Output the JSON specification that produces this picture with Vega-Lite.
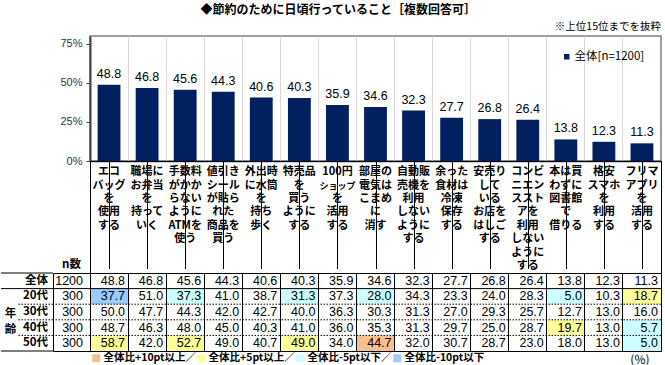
{
 "$schema": "https://vega.github.io/schema/vega-lite/v6.json",
 "padding": {"left": 0, "top": 3, "right": 0, "bottom": 2},
 "title": {"text": "◆節約のために日頃行っていること［複数回答可］", "fontSize": 12, "fontWeight": "bold", "anchor": "middle", "offset": 4, "dx": 7, "color": "#000"},
 "datasets": {
  "hd": [
   {"i": 1, "k": 1, "t": "エコ"}, {"i": 1, "k": 2, "t": "バッグ"}, {"i": 1, "k": 3, "t": "を"}, {"i": 1, "k": 4, "t": "使用"}, {"i": 1, "k": 5, "t": "する"},
   {"i": 2, "k": 1, "t": "職場に"}, {"i": 2, "k": 2, "t": "お弁当"}, {"i": 2, "k": 3, "t": "を"}, {"i": 2, "k": 4, "t": "持って"}, {"i": 2, "k": 5, "t": "いく"},
   {"i": 3, "k": 1, "t": "手数料"}, {"i": 3, "k": 2, "t": "がかか"}, {"i": 3, "k": 3, "t": "らない"}, {"i": 3, "k": 4, "t": "ように"}, {"i": 3, "k": 5, "t": "ATMを"}, {"i": 3, "k": 6, "t": "使う"},
   {"i": 4, "k": 1, "t": "値引き"}, {"i": 4, "k": 2, "t": "シール"}, {"i": 4, "k": 3, "t": "が貼ら"}, {"i": 4, "k": 4, "t": "れた"}, {"i": 4, "k": 5, "t": "商品を"}, {"i": 4, "k": 6, "t": "買う"},
   {"i": 5, "k": 1, "t": "外出時"}, {"i": 5, "k": 2, "t": "に水筒"}, {"i": 5, "k": 3, "t": "を"}, {"i": 5, "k": 4, "t": "持ち"}, {"i": 5, "k": 5, "t": "歩く"},
   {"i": 6, "k": 1, "t": "特売品"}, {"i": 6, "k": 2, "t": "を"}, {"i": 6, "k": 3, "t": "買う"}, {"i": 6, "k": 4, "t": "ように"}, {"i": 6, "k": 5, "t": "する"},
   {"i": 7, "k": 1, "t": "100円"}, {"i": 7, "k": 2, "t": "ショップ"}, {"i": 7, "k": 3, "t": "を"}, {"i": 7, "k": 4, "t": "活用"}, {"i": 7, "k": 5, "t": "する"},
   {"i": 8, "k": 1, "t": "部屋の"}, {"i": 8, "k": 2, "t": "電気は"}, {"i": 8, "k": 3, "t": "こまめ"}, {"i": 8, "k": 4, "t": "に"}, {"i": 8, "k": 5, "t": "消す"},
   {"i": 9, "k": 1, "t": "自動販"}, {"i": 9, "k": 2, "t": "売機を"}, {"i": 9, "k": 3, "t": "利用"}, {"i": 9, "k": 4, "t": "しない"}, {"i": 9, "k": 5, "t": "ように"}, {"i": 9, "k": 6, "t": "する"},
   {"i": 10, "k": 1, "t": "余った"}, {"i": 10, "k": 2, "t": "食材は"}, {"i": 10, "k": 3, "t": "冷凍"}, {"i": 10, "k": 4, "t": "保存"}, {"i": 10, "k": 5, "t": "する"},
   {"i": 11, "k": 1, "t": "安売り"}, {"i": 11, "k": 2, "t": "して"}, {"i": 11, "k": 3, "t": "いる"}, {"i": 11, "k": 4, "t": "お店を"}, {"i": 11, "k": 5, "t": "はしご"}, {"i": 11, "k": 6, "t": "する"},
   {"i": 12, "k": 1, "t": "コンビ"}, {"i": 12, "k": 2, "t": "ニエン"}, {"i": 12, "k": 3, "t": "ススト"}, {"i": 12, "k": 4, "t": "アを"}, {"i": 12, "k": 5, "t": "利用"}, {"i": 12, "k": 6, "t": "しない"}, {"i": 12, "k": 7, "t": "ように"}, {"i": 12, "k": 8, "t": "する"},
   {"i": 13, "k": 1, "t": "本は買"}, {"i": 13, "k": 2, "t": "わずに"}, {"i": 13, "k": 3, "t": "図書館"}, {"i": 13, "k": 4, "t": "で"}, {"i": 13, "k": 5, "t": "借りる"},
   {"i": 14, "k": 1, "t": "格安"}, {"i": 14, "k": 2, "t": "スマホ"}, {"i": 14, "k": 3, "t": "を"}, {"i": 14, "k": 4, "t": "利用"}, {"i": 14, "k": 5, "t": "する"},
   {"i": 15, "k": 1, "t": "フリマ"}, {"i": 15, "k": 2, "t": "アプリ"}, {"i": 15, "k": 3, "t": "を"}, {"i": 15, "k": 4, "t": "活用"}, {"i": 15, "k": 5, "t": "する"}
  ],
  "ages": [
   {"r": "全体", "n": 1200},
   {"r": "20代", "n": 300},
   {"r": "30代", "n": 300},
   {"r": "40代", "n": 300},
   {"r": "50代", "n": 300}
  ],
  "cells": [
   {"i": 1, "r": "全体", "v": 48.8}, {"i": 1, "r": "20代", "v": 37.7, "h": "全体比-10pt以下"}, {"i": 1, "r": "30代", "v": 50.0}, {"i": 1, "r": "40代", "v": 48.7}, {"i": 1, "r": "50代", "v": 58.7, "h": "全体比+5pt以上／"},
   {"i": 2, "r": "全体", "v": 46.8}, {"i": 2, "r": "20代", "v": 51.0}, {"i": 2, "r": "30代", "v": 47.7}, {"i": 2, "r": "40代", "v": 46.3}, {"i": 2, "r": "50代", "v": 42.0},
   {"i": 3, "r": "全体", "v": 45.6}, {"i": 3, "r": "20代", "v": 37.3, "h": "全体比-5pt以下／"}, {"i": 3, "r": "30代", "v": 44.3}, {"i": 3, "r": "40代", "v": 48.0}, {"i": 3, "r": "50代", "v": 52.7, "h": "全体比+5pt以上／"},
   {"i": 4, "r": "全体", "v": 44.3}, {"i": 4, "r": "20代", "v": 41.0}, {"i": 4, "r": "30代", "v": 42.0}, {"i": 4, "r": "40代", "v": 45.0}, {"i": 4, "r": "50代", "v": 49.0},
   {"i": 5, "r": "全体", "v": 40.6}, {"i": 5, "r": "20代", "v": 38.7}, {"i": 5, "r": "30代", "v": 42.7}, {"i": 5, "r": "40代", "v": 40.3}, {"i": 5, "r": "50代", "v": 40.7},
   {"i": 6, "r": "全体", "v": 40.3}, {"i": 6, "r": "20代", "v": 31.3, "h": "全体比-5pt以下／"}, {"i": 6, "r": "30代", "v": 40.0}, {"i": 6, "r": "40代", "v": 41.0}, {"i": 6, "r": "50代", "v": 49.0, "h": "全体比+5pt以上／"},
   {"i": 7, "r": "全体", "v": 35.9}, {"i": 7, "r": "20代", "v": 37.3}, {"i": 7, "r": "30代", "v": 36.3}, {"i": 7, "r": "40代", "v": 36.0}, {"i": 7, "r": "50代", "v": 34.0},
   {"i": 8, "r": "全体", "v": 34.6}, {"i": 8, "r": "20代", "v": 28.0, "h": "全体比-5pt以下／"}, {"i": 8, "r": "30代", "v": 30.3}, {"i": 8, "r": "40代", "v": 35.3}, {"i": 8, "r": "50代", "v": 44.7, "h": "全体比+10pt以上／"},
   {"i": 9, "r": "全体", "v": 32.3}, {"i": 9, "r": "20代", "v": 34.3}, {"i": 9, "r": "30代", "v": 31.3}, {"i": 9, "r": "40代", "v": 31.3}, {"i": 9, "r": "50代", "v": 32.0},
   {"i": 10, "r": "全体", "v": 27.7}, {"i": 10, "r": "20代", "v": 23.3}, {"i": 10, "r": "30代", "v": 27.0}, {"i": 10, "r": "40代", "v": 29.7}, {"i": 10, "r": "50代", "v": 30.7},
   {"i": 11, "r": "全体", "v": 26.8}, {"i": 11, "r": "20代", "v": 24.0}, {"i": 11, "r": "30代", "v": 29.3}, {"i": 11, "r": "40代", "v": 25.0}, {"i": 11, "r": "50代", "v": 28.7},
   {"i": 12, "r": "全体", "v": 26.4}, {"i": 12, "r": "20代", "v": 28.3}, {"i": 12, "r": "30代", "v": 25.7}, {"i": 12, "r": "40代", "v": 28.7}, {"i": 12, "r": "50代", "v": 23.0},
   {"i": 13, "r": "全体", "v": 13.8}, {"i": 13, "r": "20代", "v": 5.0, "h": "全体比-5pt以下／"}, {"i": 13, "r": "30代", "v": 12.7}, {"i": 13, "r": "40代", "v": 19.7, "h": "全体比+5pt以上／"}, {"i": 13, "r": "50代", "v": 18.0},
   {"i": 14, "r": "全体", "v": 12.3}, {"i": 14, "r": "20代", "v": 10.3}, {"i": 14, "r": "30代", "v": 13.0}, {"i": 14, "r": "40代", "v": 13.0}, {"i": 14, "r": "50代", "v": 13.0},
   {"i": 15, "r": "全体", "v": 11.3}, {"i": 15, "r": "20代", "v": 18.7, "h": "全体比+5pt以上／"}, {"i": 15, "r": "30代", "v": 16.0}, {"i": 15, "r": "40代", "v": 5.7, "h": "全体比-5pt以下／"}, {"i": 15, "r": "50代", "v": 5.0, "h": "全体比-5pt以下／"}
  ]
 },
 "columns": 4,
 "spacing": 0,
 "bounds": "flush",
 "align": "each",
 "resolve": {"scale": {"x": "independent", "y": "independent", "color": "independent"}, "legend": {"color": "independent"}},
 "concat": [
  {"width": 1, "height": 1, "data": {"values": [{}]}, "mark": {"type": "text", "text": ""}, "encoding": {}},
  {"width": 1, "height": 1, "data": {"values": [{}]}, "mark": {"type": "text", "text": ""}, "encoding": {}},
  {"width": 1, "height": 1, "data": {"values": [{}]}, "mark": {"type": "text", "text": ""}, "encoding": {}},
  {
   "width": 571, "height": 125,
   "data": {"name": "cells"},
   "transform": [{"filter": "datum.r === '全体'"}],
   "title": {"text": "※上位15位までを抜粋", "anchor": "end", "fontSize": 10.5, "fontWeight": "normal", "offset": 4, "color": "#000"},
   "view": {"stroke": "#808080", "strokeWidth": 1.5},
   "encoding": {
    "x": {"field": "i", "type": "ordinal", "scale": {"paddingInner": 0, "paddingOuter": 0},
     "axis": {"title": null, "labels": false, "ticks": false, "grid": true, "bandPosition": 0, "gridColor": "#d9d9d9", "domainColor": "#404040", "domainWidth": 1.5}}
   },
   "layer": [
    {"mark": {"type": "bar", "width": {"band": 0.6}},
     "encoding": {
      "y": {"field": "v", "type": "quantitative", "scale": {"domain": [0, 75]},
       "axis": {"values": [0, 25, 50, 75], "labelExpr": "datum.value + '%'", "title": null, "grid": false, "domainColor": "#404040", "domainWidth": 2, "tickColor": "#404040", "tickSize": 4, "labelFont": "Liberation Sans", "labelFontSize": 11, "labelColor": "#333333", "labelPadding": 4}},
      "color": {"datum": "全体[n=1200]", "type": "nominal", "scale": {"range": ["#002060"]},
       "legend": {"orient": "none", "legendX": 471, "legendY": 15, "title": null, "symbolType": "square", "symbolSize": 30, "symbolStrokeWidth": 0, "labelFontSize": 11.5, "labelOffset": 2, "padding": 0, "labelColor": "#000"}}
     }},
    {"mark": {"type": "text", "baseline": "bottom", "dy": -4, "font": "Liberation Sans", "fontSize": 12.5, "color": "#000"},
     "encoding": {"y": {"field": "v", "type": "quantitative"}, "text": {"field": "v", "type": "quantitative", "format": ".1f"}}}
   ]
  },
  {"width": 1, "height": 1, "data": {"values": [{}]}, "mark": {"type": "text", "text": ""}, "encoding": {}},
  {"width": 1, "height": 1, "data": {"values": [{}]}, "mark": {"type": "text", "text": ""}, "encoding": {}},
  {"width": 37, "height": 112, "data": {"values": [{}]}, "mark": {"type": "text", "text": "n数", "y": "height", "dy": -8, "fontWeight": "bold", "fontSize": 11.5, "color": "#000"}, "encoding": {}},
  {
   "width": 571, "height": 112,
   "data": {"name": "hd"},
   "view": {"stroke": "#000"},
   "mark": {"type": "text", "baseline": "middle", "fontWeight": "bold", "color": "#000"},
   "encoding": {
    "x": {"field": "i", "type": "ordinal", "scale": {"paddingInner": 0, "paddingOuter": 0},
     "axis": {"title": null, "labels": false, "ticks": false, "domain": false, "grid": true, "bandPosition": 0, "gridColor": "#000"}},
    "y": {"field": "k", "type": "ordinal", "scale": {"domain": [1, 2, 3, 4, 5, 6, 7, 8], "range": [4.5, 111.7], "paddingInner": 0, "paddingOuter": 0}, "axis": null},
    "text": {"field": "t", "type": "nominal"},
    "size": {"condition": {"test": "datum.t === 'ショップ'", "value": 9}, "value": 11}
   }
  },
  {
   "width": 17, "height": 78,
   "layer": [
    {"data": {"name": "ages"}, "transform": [{"filter": "datum.r === '全体' || datum.r === '20代'"}],
     "mark": {"type": "rule", "color": "#000"},
     "encoding": {"y": {"field": "r", "type": "nominal", "bandPosition": 0, "scale": {"domain": ["全体", "20代", "30代", "40代", "50代"], "paddingInner": 0, "paddingOuter": 0},
      "axis": {"title": ["年", "齢"], "titleAngle": 0, "titleX": 9, "titleY": 40, "titleAlign": "center", "titleBaseline": "middle", "titleFontWeight": "bold", "titleFontSize": 11.5, "titleLineHeight": 16, "titleColor": "#000", "labels": false, "ticks": false, "domain": false, "grid": false}}}},
    {"data": {"name": "ages"}, "transform": [{"filter": "datum.r === '50代'"}],
     "mark": {"type": "rule", "color": "#000"},
     "encoding": {"y": {"field": "r", "type": "nominal", "bandPosition": 1}}}
   ]
  },
  {
   "width": 35, "height": 78,
   "layer": [
    {"data": {"name": "ages"},
     "mark": {"type": "text", "x": "width", "dx": -5, "align": "right", "fontWeight": "bold", "fontSize": 11.5, "color": "#000"},
     "encoding": {"y": {"field": "r", "type": "nominal", "scale": {"domain": ["全体", "20代", "30代", "40代", "50代"], "paddingInner": 0, "paddingOuter": 0}, "axis": null}, "text": {"field": "r", "type": "nominal"}}},
    {"data": {"name": "ages"}, "transform": [{"filter": "datum.r === '全体' || datum.r === '20代'"}],
     "mark": {"type": "rule", "color": "#000"},
     "encoding": {"y": {"field": "r", "type": "nominal", "bandPosition": 0}}},
    {"data": {"name": "ages"}, "transform": [{"filter": "datum.r === '30代' || datum.r === '40代' || datum.r === '50代'"}],
     "mark": {"type": "rule", "color": "#000", "strokeDash": [1.5, 1.5]},
     "encoding": {"y": {"field": "r", "type": "nominal", "bandPosition": 0}}},
    {"data": {"name": "ages"}, "transform": [{"filter": "datum.r === '50代'"}],
     "mark": {"type": "rule", "color": "#000"},
     "encoding": {"y": {"field": "r", "type": "nominal", "bandPosition": 1}}}
   ]
  },
  {
   "width": 37, "height": 78,
   "view": {"stroke": "#000"},
   "layer": [
    {"data": {"name": "ages"},
     "mark": {"type": "text", "x": "width", "dx": -7, "align": "right", "font": "Liberation Sans", "fontSize": 12.5, "color": "#000"},
     "encoding": {"y": {"field": "r", "type": "nominal", "scale": {"domain": ["全体", "20代", "30代", "40代", "50代"], "paddingInner": 0, "paddingOuter": 0}, "axis": null}, "text": {"field": "n", "type": "quantitative"}}},
    {"data": {"name": "ages"}, "transform": [{"filter": "datum.r === '20代'"}],
     "mark": {"type": "rule", "color": "#000"},
     "encoding": {"y": {"field": "r", "type": "nominal", "bandPosition": 0}}},
    {"data": {"name": "ages"}, "transform": [{"filter": "datum.r === '30代' || datum.r === '40代' || datum.r === '50代'"}],
     "mark": {"type": "rule", "color": "#000", "strokeDash": [1.5, 1.5]},
     "encoding": {"y": {"field": "r", "type": "nominal", "bandPosition": 0}}}
   ]
  },
  {
   "width": 571, "height": 78,
   "view": {"stroke": "#000"},
   "layer": [
    {"data": {"name": "cells"}, "transform": [{"filter": "datum.h != null"}],
     "mark": {"type": "rect"},
     "encoding": {
      "x": {"field": "i", "type": "ordinal", "scale": {"paddingInner": 0, "paddingOuter": 0}},
      "y": {"field": "r", "type": "nominal", "scale": {"domain": ["全体", "20代", "30代", "40代", "50代"], "paddingInner": 0, "paddingOuter": 0}, "axis": null},
      "color": {"field": "h", "type": "nominal", "scale": {"domain": ["全体比+10pt以上／", "全体比+5pt以上／", "全体比-5pt以下／", "全体比-10pt以下"], "range": ["#fac090", "#ffff99", "#ccffff", "#99ccff"]},
       "legend": {"orient": "none", "legendX": 1, "legendY": 80, "direction": "horizontal", "gridAlign": "none", "title": null, "symbolType": "square", "symbolSize": 64, "symbolStrokeWidth": 0, "labelFontWeight": "bold", "labelFontSize": 10.5, "labelColor": "#000", "labelOffset": 2, "columnPadding": 0, "padding": 0, "labelLimit": 300}}
     }},
    {"data": {"name": "cells"},
     "mark": {"type": "text", "align": "right", "dx": -3, "font": "Liberation Sans", "fontSize": 12.5, "color": "#000"},
     "encoding": {
      "x": {"field": "i", "type": "ordinal", "bandPosition": 1, "scale": {"paddingInner": 0, "paddingOuter": 0},
       "axis": {"title": "(%)", "titleX": 559, "titleY": 8, "titleAlign": "right", "titleBaseline": "middle", "titleFontWeight": "normal", "titleFontSize": 12, "titleColor": "#000", "labels": false, "ticks": false, "domain": false, "grid": true, "bandPosition": 0, "gridColor": "#000", "zindex": 1}},
      "y": {"field": "r", "type": "nominal"},
      "text": {"field": "v", "type": "quantitative", "format": ".1f"}
     }},
    {"data": {"name": "ages"}, "transform": [{"filter": "datum.r === '20代'"}],
     "mark": {"type": "rule", "color": "#000"},
     "encoding": {"y": {"field": "r", "type": "nominal", "bandPosition": 0}}},
    {"data": {"name": "ages"}, "transform": [{"filter": "datum.r === '30代' || datum.r === '40代' || datum.r === '50代'"}],
     "mark": {"type": "rule", "color": "#000", "strokeDash": [1.5, 1.5]},
     "encoding": {"y": {"field": "r", "type": "nominal", "bandPosition": 0}}}
   ]
  }
 ],
 "config": {
  "font": "Noto Sans CJK JP",
  "view": {"stroke": null},
  "title": {"color": "#000"}
 }
}
